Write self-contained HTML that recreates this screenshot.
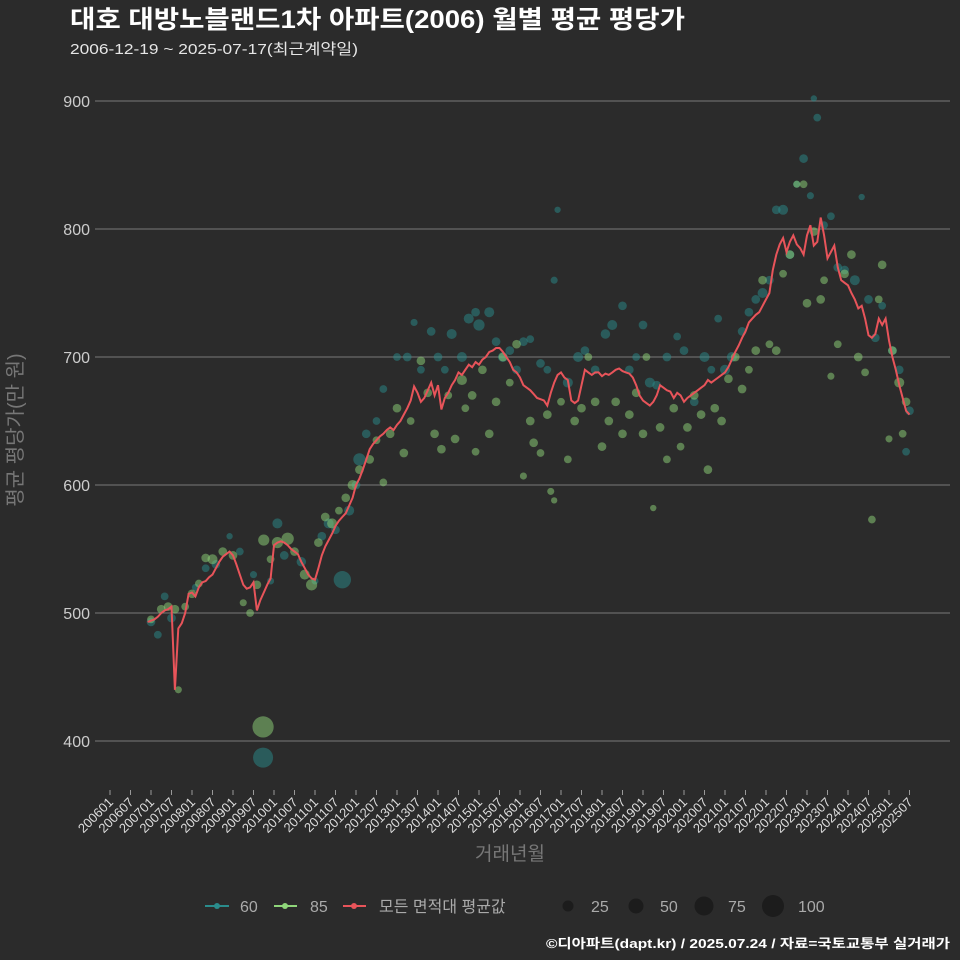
<!DOCTYPE html>
<html><head><meta charset="utf-8"><style>
html,body{margin:0;padding:0;background:#2b2b2b;}
svg{display:block;font-family:"Liberation Sans","Noto Sans CJK KR",sans-serif;}
</style></head><body>
<svg id="chart" width="960" height="960" viewBox="0 0 960 960" xmlns="http://www.w3.org/2000/svg">
<rect width="960" height="960" fill="#2b2b2b"/>
<text x="70" y="28" fill="#ffffff" font-size="25" font-weight="bold" textLength="615" lengthAdjust="spacingAndGlyphs">대호 대방노블랜드1차 아파트(2006) 월별 평균 평당가</text>
<text x="70" y="54" fill="#e6e6e6" font-size="15" textLength="288" lengthAdjust="spacingAndGlyphs">2006-12-19 ~ 2025-07-17(최근계약일)</text>
<g id="grid"></g>
<g id="yticks"></g>
<g id="xticks"></g>
<g id="pts60"></g>
<g id="pts85"></g>
<path id="avgline" fill="none" stroke="#e8545a" stroke-width="2"/>
<text transform="translate(22,430) rotate(-90)" text-anchor="middle" fill="#777" font-size="20">평균 평당가(만 원)</text>
<text x="510" y="860" text-anchor="middle" fill="#777" font-size="19">거래년월</text>
<g font-size="16" fill="#aaa">
<g><line x1="205" y1="906" x2="229" y2="906" stroke="#2a8c8c" stroke-width="2"/><circle cx="217" cy="906" r="3" fill="#2a8c8c"/><text x="240" y="912" fill="#aaa">60</text></g>
<g><line x1="274" y1="906" x2="297" y2="906" stroke="#8fd67a" stroke-width="2"/><circle cx="285" cy="906" r="3" fill="#8fd67a"/><text x="310" y="912" fill="#aaa">85</text></g>
<g><line x1="343" y1="906" x2="366" y2="906" stroke="#e8545a" stroke-width="2"/><circle cx="354" cy="906" r="3" fill="#e8545a"/><text x="379" y="912" fill="#aaa">모든 면적대 평균값</text></g>
<g><circle cx="568" cy="906" r="5.5" fill="#1c1c1c"/><text x="591" y="912" fill="#aaa">25</text></g>
<g><circle cx="636" cy="906" r="7.5" fill="#1c1c1c"/><text x="660" y="912" fill="#aaa">50</text></g>
<g><circle cx="704" cy="906" r="9.5" fill="#1c1c1c"/><text x="728" y="912" fill="#aaa">75</text></g>
<g><circle cx="773" cy="906" r="11" fill="#1c1c1c"/><text x="798" y="912" fill="#aaa">100</text></g>
</g>
<text x="950" y="948" text-anchor="end" fill="#ffffff" font-size="13" font-weight="bold" textLength="404" lengthAdjust="spacingAndGlyphs">©디아파트(dapt.kr) / 2025.07.24 / 자료=국토교통부 실거래가</text>
</svg>
<script>
// y ticks
const yTicks = [400, 500, 600, 700, 800, 900];
// average line: monthly, starting 2006-12 (month index 11 from 2006-01)
const avgStart = 11;
const avgValues = [
493,
494,495,497,500,502,503,505,440,488,492,500,515,
516,513,520,524,525,528,530,535,540,544,546,548,
545,538,530,522,519,520,524,502,510,516,522,527,
553,555,556,555,553,550,548,546,540,535,530,527,
526,535,545,552,557,562,568,572,575,578,584,590,
600,605,612,620,628,632,635,638,640,643,645,643,
647,650,655,660,666,677,672,665,668,674,680,670,
678,659,668,672,678,682,688,686,690,694,692,696,
694,698,700,704,705,707,707,704,700,696,690,688,
684,678,676,674,671,668,667,666,662,672,680,686,
688,684,682,666,664,666,678,690,688,686,688,688,
685,687,686,688,690,691,689,688,687,684,678,670,
666,664,662,665,670,678,676,674,673,668,672,670,
665,668,670,672,674,676,678,682,680,682,684,686,
688,692,698,704,709,715,720,727,730,733,735,740,
745,750,768,780,788,793,782,790,795,788,785,780,
795,803,787,790,809,795,777,782,787,770,760,758,
756,750,745,738,740,730,717,715,718,730,725,730,
713,700,690,678,668,658,655];
const m60 = [12,14,16,18,25,28,31,35,38,42,44.8,47,49,51,56,60,62,64,66,68,70,72,73,75,78,80,84,87,89,91,94,96,98,100,103,105,107,108,111,113,115,117,119,121,123,126,128,130,131,134,137,139,142,145,147,150,152,154,156,158,160,163,166,168,171,174,176,178,180,182,185,187,189,191,193,195,197,199,201,203,205,206,207,209,211,213,215,218,220,222,224,226,229,231,233,234];
const v60 = [493,483,513,496,520,535,538,560,548,530,387,525,570,545,540,525,560,570,565,526,580,600,620,640,650,675,700,700,727,690,720,700,690,718,700,730,735,725,735,712,700,705,690,712,714,695,690,760,815,680,700,705,690,718,725,740,690,700,725,680,678,700,716,705,665,700,690,730,690,700,720,735,745,750,760,815,815,780,835,855,826,902,887,803,810,770,768,760,825,745,715,740,705,690,626,658];
const s60 = [15,12,12,15,10,12,15,8,12,10,80,10,20,15,18,10,15,20,15,60,20,15,30,15,12,12,12,15,10,12,15,15,12,20,20,20,15,25,20,15,20,15,15,15,12,15,12,10,8,20,20,15,15,18,20,15,15,12,15,20,15,15,12,15,15,20,12,12,20,20,15,15,15,20,15,15,20,15,10,15,10,8,12,12,12,15,15,20,8,15,15,12,15,15,12,15];
const m85 = [12,15,17,19,20,22,24,26,28,30,33,36,39,41,43,44.8,45,47,49,52,54,57,59,61,63,65,67,69,71,73,76,78,80,82,84,86,88,91,93,95,97,99,101,103,104,106,107,109,111,113,115,117,119,121,123,124,126,128,129,130,132,134,136,138,140,142,144,146,148,150,152,154,156,157,159,161,163,165,167,169,171,173,175,177,179,181,183,185,187,189,191,193,195,197,199,201,203,204,206,208,209,211,213,215,217,219,221,223,225,226,228,229,231,232,233];
const v85 = [495,503,505,503,440,505,515,523,543,542,548,545,508,500,522,411,557,542,555,558,548,530,522,555,575,570,580,590,600,612,620,635,602,640,660,625,650,697,672,640,628,670,636,682,660,670,626,690,640,665,700,680,710,607,650,633,625,655,595,588,665,620,650,660,700,665,630,650,665,640,655,672,640,700,582,645,620,660,630,645,670,655,612,660,650,683,700,675,690,705,760,710,705,765,780,835,835,742,798,745,760,685,710,765,780,700,688,573,745,772,636,705,680,640,665];
const s85 = [12,15,15,15,10,12,15,12,15,20,15,15,10,12,15,90,25,12,25,30,15,20,25,15,15,20,12,15,20,15,15,12,12,15,15,15,12,15,15,15,15,12,15,20,12,15,12,15,15,15,15,12,15,10,15,15,12,15,10,8,12,12,15,15,12,15,15,15,15,15,15,15,15,12,8,15,12,15,12,15,15,15,15,15,15,15,15,15,12,15,15,12,15,12,15,10,12,15,15,15,12,10,12,15,15,15,12,12,12,15,10,15,20,12,15];

const xTickMonths = [];
for (let m = 0; m <= 234; m += 6) xTickMonths.push(m);

const NS = 'http://www.w3.org/2000/svg';
function xScale(m){ return 110 + m * 20.5 / 6; }
function yScale(v){ return 741 - (v - 400) * 1.28; }
function rScale(s){ return Math.sqrt(s) * 1.12; }
function mk(tag, attrs, parent){ const e = document.createElementNS(NS, tag); for (const k in attrs) e.setAttribute(k, attrs[k]); parent.appendChild(e); return e; }

const grid = document.getElementById('grid');
const yt = document.getElementById('yticks');
yTicks.forEach(v => {
  const l = mk('line', {x1: 95, x2: 950, y1: yScale(v), y2: yScale(v), stroke: '#6a6a6a', 'stroke-width': 1.2}, grid);
  
  
  const t = mk('text', {x: 90, y: yScale(v) + 6, 'text-anchor': 'end', fill: '#cccccc', 'font-size': 16}, yt);
  t.textContent = v;
  
  
});

const xt = document.getElementById('xticks');
xTickMonths.forEach(m => {
  const x = xScale(m);
  const yr = 2006 + Math.floor(m / 12), mo = (m % 12) + 1;
  const lab = yr + (mo < 10 ? '0' : '') + mo;
  const tk = mk('line', {x1: x, x2: x, y1: 790, y2: 795, stroke: '#999', 'stroke-width': 1}, xt);
  
  
  const t = mk('text', {transform: 'translate(' + (x + 4) + ',803) rotate(-45)', 'text-anchor': 'end', fill: '#dddddd', 'font-size': 13}, xt);
  t.textContent = lab;
  
  
});

function drawPts(gid, ms, vs, ss, col){
  const g = document.getElementById(gid);
  ms.forEach((m, i) => {
    const c = mk('circle', {cx: xScale(m), cy: yScale(vs[i]), r: rScale(ss[i]), fill: col, 'fill-opacity': 0.5}, g);
    
    
  });
}
drawPts('pts60', m60, v60, s60, '#2a8c8c');
drawPts('pts85', m85, v85, s85, '#8fd67a');

let d = '';
avgValues.forEach((v, i) => { d += (i ? 'L' : 'M') + xScale(avgStart + i).toFixed(1) + ',' + yScale(v).toFixed(1); });
document.getElementById('avgline').setAttribute('d', d);
</script>
</body></html>
